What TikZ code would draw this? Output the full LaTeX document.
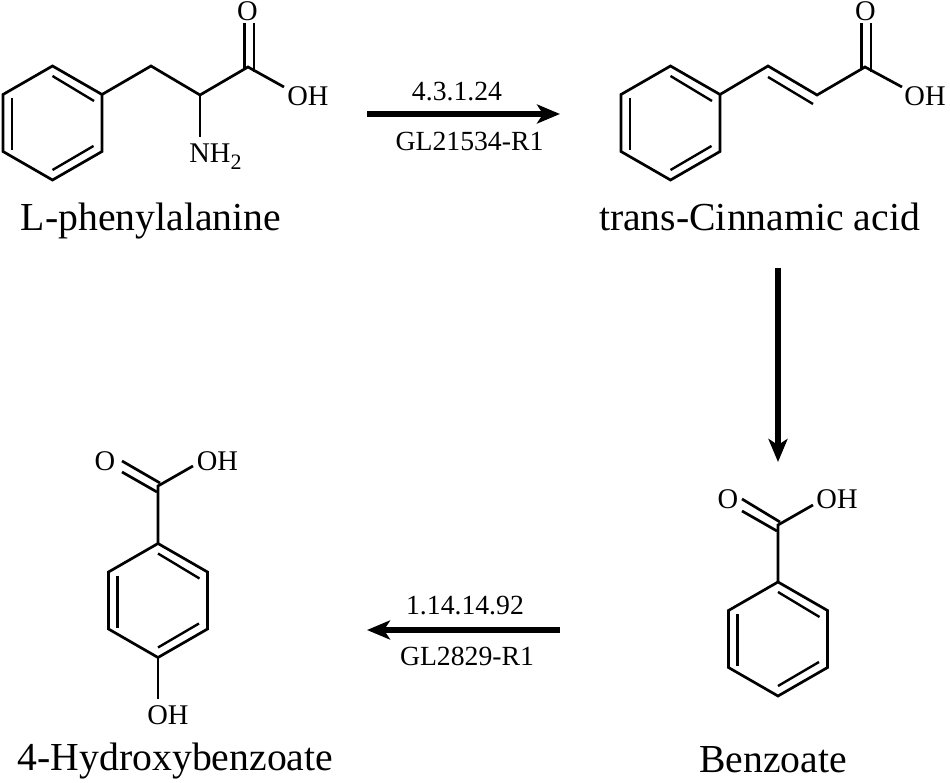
\documentclass[tikz,border=0pt]{standalone}
\usepackage{fontspec}
\setmainfont{Liberation Serif}
\usetikzlibrary{arrows.meta}
\tikzset{
	bond/.style = {
		line width = 2.7pt,
		line join = miter
	},
	inner bond/.style = {
		line width = 2.4pt
	},
	reaction/.style = {
		line width = 6pt,
		-{Stealth[length = 23pt, width = 19pt, inset = 6pt]}
	},
	atom/.style = {
		anchor = base,
		inner sep = 0,
		font = \fontsize{28.5}{29}\selectfont
	},
	enzyme/.style = {
		anchor = base,
		inner sep = 0,
		font = \fontsize{27.7}{28}\selectfont
	},
	compound/.style = {
		anchor = base,
		inner sep = 0,
		font = \fontsize{39.7}{40}\selectfont
	},
	pics/phenyl/.style = {
		code = {
			\coordinate (top) at (0, -57);
			\coordinate (upright) at (49.5, -28.5);
			\coordinate (lowright) at (49.5, 28.5);
			\coordinate (bottom) at (0, 57);
			\coordinate (lowleft) at (-49.5, 28.5);
			\coordinate (upleft) at (-49.5, -28.5);
			\draw[bond] (top) -- (upright) -- (lowright) -- (bottom) -- (lowleft) -- (upleft) -- cycle;
			\draw[inner bond] (0, -47) -- (41.5, -22);
			\draw[inner bond] (0, 47) -- (41, 23);
			\draw[inner bond] (-40.5, -25) -- (-40.5, 27);
		}
	}
}

\begin{document}
\begin{tikzpicture}[x = 1pt, y = -1pt]
	\useasboundingbox (0, 0) rectangle (950, 783);

	\pic (phe) at (52.5, 123) {phenyl};
	\coordinate (pheA) at (151, 66);
	\coordinate (pheB) at (200, 95);
	\coordinate (pheC) at (248, 67);
	\coordinate (pheOH) at (284, 87);
	\coordinate (pheN) at (200, 137);
	\draw[bond] (pheupright) -- (pheA) -- (pheB) -- (pheC) -- (pheOH);
	\draw[bond] (pheB) -- (pheN);
	\draw[bond] (244.5, 69) -- (244.5, 23);
	\draw[bond] (254, 72) -- (254, 23);
	\node[atom] (pheo) at (247.5, 21) {O};
	\node[atom] (pheoh) at (308, 106) {OH};
	\node[atom] (phenh) at (215.5, 163) {NH\raisebox{-7pt}{\fontsize{22}{22}\selectfont 2}};
	\node[compound] (phename) at (151, 231) {L-phenylalanine};

	\pic (cin) at (670.5, 123) {phenyl};
	\coordinate (cinA) at (768, 66);
	\coordinate (cinB) at (817, 95);
	\coordinate (cinC) at (865, 67);
	\coordinate (cinOH) at (902, 87);
	\draw[bond] (cinupright) -- (cinA) -- (cinB) -- (cinC) -- (cinOH);
	\draw[inner bond] (768, 77) -- (813, 104);
	\draw[bond] (861.7, 69) -- (861.7, 23);
	\draw[bond] (871, 72) -- (871, 23);
	\node[atom] (cino) at (865.5, 21) {O};
	\node[atom] (cinoh) at (925, 106) {OH};
	\node[compound] (cinname) at (759.5, 231) {trans-Cinnamic acid};

	\pic (ben) at (778, 639) {phenyl};
	\coordinate (benC) at (778, 525);
	\coordinate (benOH) at (813, 505);
	\draw[bond] (bentop) -- (benC) -- (benOH);
	\draw[bond] (742, 499) -- (780, 522);
	\draw[bond] (742, 511) -- (777, 531);
	\node[atom] (beno) at (728, 508) {O};
	\node[atom] (benoh) at (837, 508) {OH};
	\node[compound] (benname) at (773, 772) {Benzoate};

	\pic (hyd) at (158, 600.5) {phenyl};
	\coordinate (hydC) at (158, 486);
	\coordinate (hydOH) at (193, 466);
	\coordinate (hydOHb) at (158, 699);
	\draw[bond] (hydtop) -- (hydC) -- (hydOH);
	\draw[bond] (hydbottom) -- (hydOHb);
	\draw[bond] (122, 461) -- (160, 483);
	\draw[bond] (122, 472) -- (157, 492);
	\node[atom] (hydo) at (105, 470) {O};
	\node[atom] (hydoh) at (217.5, 470) {OH};
	\node[atom] (hydohb) at (168, 724) {OH};
	\node[compound] (hydname) at (175.5, 770) {4-Hydroxybenzoate};

	\coordinate (stepAa) at (367, 114);
	\coordinate (stepAb) at (560, 114);
	\coordinate (stepBa) at (778, 268);
	\coordinate (stepBb) at (778, 462);
	\coordinate (stepCa) at (560, 630);
	\coordinate (stepCb) at (367, 630);
	\draw[reaction] (stepAa) -- (stepAb);
	\draw[reaction] (stepBa) -- (stepBb);
	\draw[reaction] (stepCa) -- (stepCb);
	\node[enzyme] (ecA) at (457, 101) {4.3.1.24};
	\node[enzyme] (glA) at (469.5, 151) {GL21534-R1};
	\node[enzyme] (ecC) at (465, 614) {1.14.14.92};
	\node[enzyme] (glC) at (467, 665) {GL2829-R1};
\end{tikzpicture}
\end{document}
